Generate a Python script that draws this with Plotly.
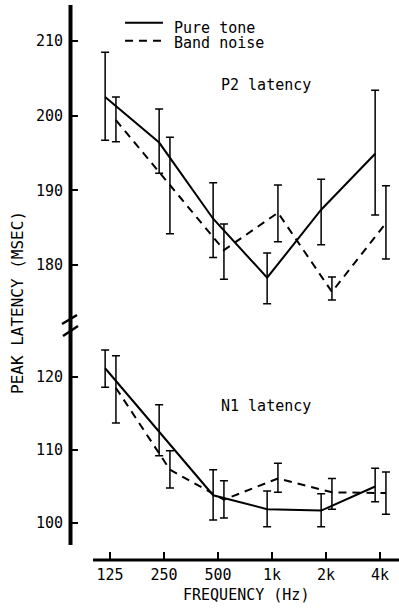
import plotly.graph_objects as go

# ---------------- data ----------------
freq_labels = ["125", "250", "500", "1k", "2k", "4k"]

p2_pure_mean = [202.5, 196.4, 186.2, 178.3, 187.4, 194.9]
p2_pure_hi = [208.5, 200.9, 191.0, 181.6, 191.5, 203.4]
p2_pure_lo = [196.7, 192.3, 181.0, 174.8, 182.7, 186.7]

p2_band_mean = [199.4, 190.7, 182.0, 187.0, 176.4, 185.6]
p2_band_hi = [202.5, 197.1, 185.5, 190.7, 178.4, 190.6]
p2_band_lo = [196.5, 184.2, 178.1, 183.1, 175.3, 180.8]

n1_pure_mean = [121.2, 112.5, 103.8, 101.9, 101.7, 105.0]
n1_pure_hi = [123.7, 116.2, 107.3, 104.4, 104.0, 107.5]
n1_pure_lo = [118.6, 109.2, 100.4, 99.5, 99.5, 102.9]

n1_band_mean = [118.5, 107.3, 103.2, 106.1, 104.2, 104.1]
n1_band_hi = [122.9, 109.9, 105.8, 108.2, 106.1, 107.0]
n1_band_lo = [113.7, 104.8, 100.7, 104.2, 101.9, 101.2]

upper_ticks = [180, 190, 200, 210]
lower_ticks = [100, 110, 120]

# ---------------- layout helpers ----------------
W, H = 399, 608
L, R, T, B = 70, 0, 0, 48
PW, PH = W - L - R, H - T - B


def px(x):
    return (x - L) / PW


def py(y):
    return (H - B - y) / PH


FONT = "DejaVu Sans Mono"
idx = list(range(len(freq_labels)))
x_pure = [i - 0.09 for i in idx]
x_band = [i + 0.11 for i in idx]


def errs(mean, hi, lo):
    return ([h - m for h, m in zip(hi, mean)], [m - l for m, l in zip(mean, lo)])


fig = go.Figure()


def add(x, mean, hi, lo, dash, yaxis, name):
    up, dn = errs(mean, hi, lo)
    fig.add_trace(go.Scatter(
        x=x, y=mean, mode="lines", name=name, yaxis=yaxis,
        line=dict(color="black", width=2, dash=dash),
        error_y=dict(type="data", symmetric=False, array=up, arrayminus=dn,
                     color="black", thickness=1.5, width=4),
        showlegend=False,
    ))


add(x_pure, p2_pure_mean, p2_pure_hi, p2_pure_lo, "solid", "y", "Pure tone")
add(x_band, p2_band_mean, p2_band_hi, p2_band_lo, "8px,6px", "y", "Band noise")
add(x_pure, n1_pure_mean, n1_pure_hi, n1_pure_lo, "solid", "y2", "Pure tone")
add(x_band, n1_band_mean, n1_band_hi, n1_band_lo, "8px,6px", "y2", "Band noise")

split = py(326)

fig.update_layout(
    width=W, height=H,
    margin=dict(l=L, r=R, t=T, b=B),
    paper_bgcolor="white", plot_bgcolor="white",
    font=dict(family=FONT, size=15, color="black"),
    xaxis=dict(
        range=[-40 / 54, 5 + 19 / 54], anchor="y2",
        tickmode="array", tickvals=idx, ticktext=freq_labels,
        ticks="inside", ticklen=8, tickwidth=1.5, tickcolor="black",
        showline=False, showgrid=False, zeroline=False,
        tickfont=dict(family=FONT, size=15),
        ticklabelstandoff=4,
    ),
    yaxis=dict(
        domain=[split, 1], range=[210 - 285 / 7.467, 210 + 41 / 7.467],
        tickmode="array", tickvals=upper_ticks,
        ticks="inside", ticklen=8, tickwidth=1.5, tickcolor="black",
        showline=False, showgrid=False, zeroline=False,
        tickfont=dict(family=FONT, size=15), ticklabelstandoff=6,
    ),
    yaxis2=dict(
        domain=[0, split], range=[100 - 37 / 7.3, 120 + 51 / 7.3],
        tickmode="array", tickvals=lower_ticks,
        ticks="inside", ticklen=8, tickwidth=1.5, tickcolor="black",
        showline=False, showgrid=False, zeroline=False,
        tickfont=dict(family=FONT, size=15), ticklabelstandoff=6,
    ),
)

shapes = [
    # y axis line
    dict(type="line", xref="paper", yref="paper", x0=px(70.5), x1=px(70.5),
         y0=py(545), y1=py(5), line=dict(color="black", width=4)),
    # x axis line
    dict(type="line", xref="paper", yref="paper", x0=px(93), x1=px(399),
         y0=py(560), y1=py(560), line=dict(color="black", width=3)),
    # axis break marks
    dict(type="line", xref="paper", yref="paper", x0=px(62), x1=px(77),
         y0=py(324), y1=py(315), line=dict(color="black", width=2.5)),
    dict(type="line", xref="paper", yref="paper", x0=px(63), x1=px(78),
         y0=py(336), y1=py(326), line=dict(color="black", width=2.5)),
    # legend samples
    dict(type="line", xref="paper", yref="paper", x0=px(125), x1=px(163),
         y0=py(22.7), y1=py(22.7), line=dict(color="black", width=2)),
    dict(type="line", xref="paper", yref="paper", x0=px(125), x1=px(163),
         y0=py(40.7), y1=py(40.7), line=dict(color="black", width=2, dash="8px,6px")),
]
fig.update_layout(shapes=shapes)


def ann(text, x, y, xanchor="left", size=15, angle=0):
    fig.add_annotation(text=text, xref="paper", yref="paper", x=px(x), y=py(y),
                       xanchor=xanchor, yanchor="middle", showarrow=False,
                       textangle=angle, font=dict(family=FONT, size=size, color="black"))


ann("Pure tone", 172, 27.5)
ann("Band noise", 172, 43.5)
ann("P2 latency", 219, 85)
ann("N1 latency", 219, 406)
ann("FREQUENCY (Hz)", 246, 595, xanchor="center", size=15)
ann("PEAK LATENCY (MSEC)", 17, 303, xanchor="center", size=16, angle=-90)

fig.write_html("out.html")
